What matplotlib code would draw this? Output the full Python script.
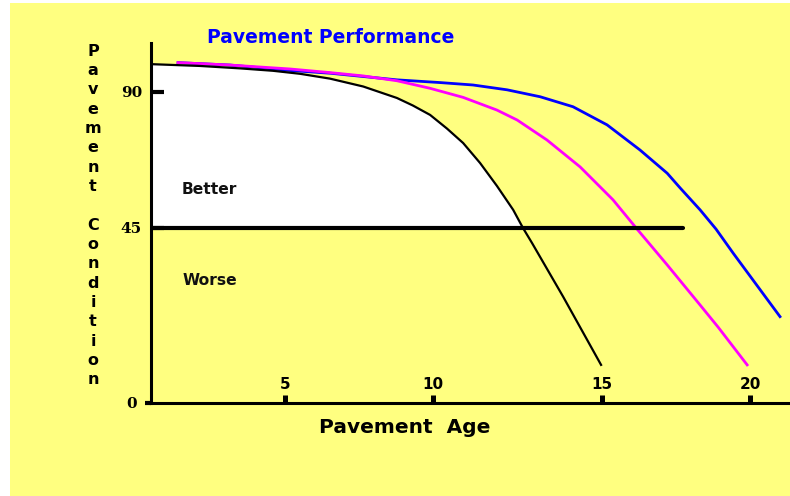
import matplotlib
matplotlib.use('Agg')
import matplotlib.pyplot as plt
from matplotlib.patches import Rectangle
import numpy as np

plt.rcParams['font.family'] = ['DejaVu Sans']

# curves: pavement age (years) vs condition index
blackAge = [0, 1.83, 3.32, 4.55, 5.51, 6.52, 7.64, 8.78, 9.32, 9.90, 10.41, 10.89,
			11.39, 11.89, 12.37, 12.66, 12.93, 13.85, 14.97]
blackCond = [99.2, 98.6, 97.8, 97.0, 96.0, 94.4, 91.8, 88.0, 85.5, 82.4, 77.9, 73.1,
			 66.5, 58.9, 51.0, 45.0, 41.1, 27.3, 9.8]

pinkAge = [1.01, 2.95, 5.17, 6.52, 7.64, 8.78, 9.90, 10.89, 11.89, 12.49, 13.37, 14.35,
		   15.37, 16.15, 17.20, 18.31, 18.92, 19.90]
pinkCond = [99.7, 98.9, 97.6, 96.4, 95.3, 93.7, 91.2, 88.2, 84.0, 80.7, 74.1, 65.2,
			54.3, 45.0, 35.5, 25.2, 19.5, 9.8]

blueAge = [1.01, 2.95, 5.17, 6.52, 8.78, 10.21, 11.18, 12.19, 13.17, 14.14, 15.17,
		   16.28, 17.20, 17.64, 18.31, 18.85, 19.43, 21.01]
blueCond = [99.7, 98.9, 97.1, 96.2, 94.0, 93.1, 92.3, 90.7, 88.4, 85.1, 79.1,
			70.8, 63.1, 58.2, 51.0, 44.7, 38.5, 22.2]

threshold = 45
thresholdEnd = 17.74

ageTicks = [5, 10, 15, 20]
condTicks = [45, 90]

# the drawing is not to scale, so the axes use a piecewise scale
xKnots = [0, 5, 10, 15, 20, 22]
xPix = [0, 134, 282, 451, 599, 658.2]
yKnots = [0, 45, 90, 110]
yPix = [0, 175, 311, 371.4]

def xFwd(v):
	return np.interp(v, xKnots, xPix)
def xInv(v):
	return np.interp(v, xPix, xKnots)
def yFwd(v):
	return np.interp(v, yKnots, yPix)
def yInv(v):
	return np.interp(v, yPix, yKnots)

fig = plt.figure(figsize=(7.9, 4.96), dpi=100)
fig.patch.set_facecolor('white')
fig.patches.append(Rectangle((10/790, 0), 780/790, 493/496, transform=fig.transFigure,
							 facecolor='#FFFF80', edgecolor='none', zorder=-10))

ax = fig.add_axes([151/790, 93/496, 637/790, 360/496])
ax.set_facecolor('none')
ax.set_xscale('function', functions=(xFwd, xInv))
ax.set_yscale('function', functions=(yFwd, yInv))
ax.set_xlim(0, 21.28)
ax.set_ylim(0, 106.2)

# white "better" zone under the black curve
nFill = blackAge.index(12.66) + 1
ax.fill_between(blackAge[:nFill], blackCond[:nFill], threshold, color='white', lw=0, zorder=1)

ax.plot(blueAge, blueCond, color='#0000FF', lw=2.0, zorder=3)
ax.plot(pinkAge, pinkCond, color='#FF00FF', lw=2.0, zorder=4)
ax.plot(blackAge, blackCond, color='black', lw=1.6, zorder=5)
ax.plot([0, thresholdEnd], [threshold, threshold], color='black', lw=3, solid_capstyle='round', zorder=6)

ax.text(1.16, 56.2, 'Better', fontsize=11.2, fontweight='bold', color='#111111', va='baseline', zorder=7)
ax.text(1.16, 30.3, 'Worse', fontsize=11.2, fontweight='bold', color='#111111', va='baseline', zorder=7)

for s in ['top', 'right']:
	ax.spines[s].set_visible(False)
for s in ['left', 'bottom']:
	ax.spines[s].set_linewidth(2.2)
	ax.spines[s].set_zorder(8)

ax.set_xticks(ageTicks)
ax.set_xticklabels([str(a) for a in ageTicks], fontweight='bold')
ax.set_yticks(condTicks)
ax.set_yticklabels([str(c) for c in condTicks], fontweight='bold', family='DejaVu Serif')
ax.set_yticks([0], minor=True)
ax.set_yticklabels(['0'], minor=True, fontweight='bold', family='DejaVu Serif')
ax.tick_params(axis='x', direction='in', length=6, width=3.6, pad=-19, labelsize=11)
ax.tick_params(axis='y', which='major', direction='in', length=9, width=3, pad=6.5, labelsize=11)
ax.tick_params(axis='y', which='minor', direction='out', length=4, width=3, pad=6, labelsize=11)

ax.set_xlabel('Pavement  Age', fontsize=14.5, fontweight='bold', va='baseline')
ax.xaxis.set_label_coords(0.398, -0.083)
ax.set_ylabel('\n'.join('Pavement Condition').replace('\n \n', '\n\n'), rotation=0,
			  fontsize=11.5, fontweight='bold', linespacing=1.36, ha='center', va='center',
			  multialignment='center')
ax.yaxis.set_label_coords(-0.091, 0.521)

fig.text(331/790, 1 - 43/496, 'Pavement Performance', ha='center', va='baseline',
		 color='#0000FF', fontsize=13.5, fontweight='bold')

fig.savefig('out.png', dpi=100, facecolor=fig.get_facecolor())
